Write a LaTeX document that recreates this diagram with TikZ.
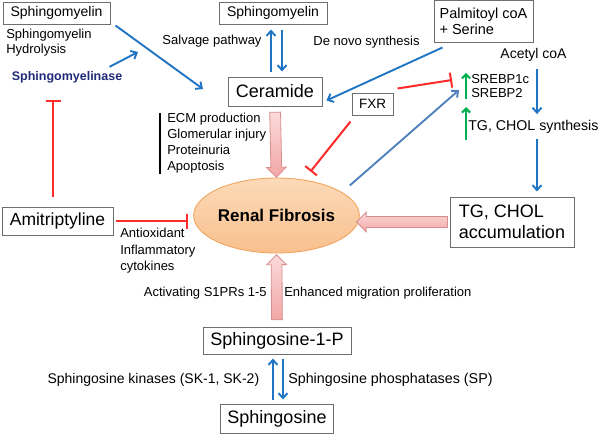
\documentclass[tikz,border=0pt]{standalone}
\usepackage{fontspec}
\setmainfont{Liberation Sans}
\usetikzlibrary{arrows.meta,shapes.geometric,shapes.arrows}

\definecolor{arrblue}{HTML}{1F74C4}
\definecolor{steel}{HTML}{4F81BD}
\definecolor{inhred}{HTML}{FF2A2A}
\definecolor{upgreen}{HTML}{00B050}
\definecolor{enzblue}{HTML}{1F2A78}
\definecolor{pinklight}{HTML}{FBDADA}
\definecolor{pinkfill}{HTML}{F2A6A6}
\definecolor{pinkline}{HTML}{D98E8E}
\definecolor{peachlight}{HTML}{FCDAB8}
\definecolor{peach}{HTML}{F9C08E}
\definecolor{peachline}{HTML}{F2A55E}
\definecolor{boxline}{HTML}{6E6E6E}

\newcommand{\fsz}[2]{\fontsize{#1}{#2}\selectfont}

\begin{document}
\begin{tikzpicture}[x=1pt, y=-1pt, line width=0.6pt,
  box/.style={draw=boxline, line width=1pt, inner sep=0pt, align=center},
  lbl/.style={inner sep=1pt, align=left},
  bluearr/.style={draw=arrblue, line width=1.9pt, -{Straight Barb[length=5pt,width=9pt]}},
  inhib/.style={draw=inhred, line width=2pt, -{Bar[width=15pt,line width=2pt]}},
  greenarr/.style={draw=upgreen, line width=2.2pt, -{Straight Barb[length=4pt,width=8pt]}},
  fatarr/.style={single arrow, draw=pinkline, line width=0.8pt, top color=pinklight, bottom color=pinkfill,
    inner xsep=0pt, inner ysep=5pt, minimum width=0pt, single arrow head extend=4.5pt,
    sloped, allow upside down, midway}]
\useasboundingbox (0,0) rectangle (600,434);

\node[box, minimum width=107pt, minimum height=22pt, font=\fsz{14}{16}] (sm1) at (56.5,13) {Sphingomyelin};
\node[lbl, anchor=north west, font=\fsz{13}{15}] (hyd) at (5,28) {Sphingomyelin\\Hydrolysis};
\node[lbl, font=\fsz{12.5}{15}\bfseries, text=enzblue] (sme) at (67,77) {Sphingomyelinase};
\node[box, minimum width=108pt, minimum height=22pt, font=\fsz{14}{16}] (sm2) at (273,13) {Sphingomyelin};
\node[lbl, font=\fsz{13}{15}] (salv) at (212,41) {Salvage pathway};
\node[box, minimum width=94pt, minimum height=29pt, font=\fsz{18}{20}] (cer) at (275,91.5) {Ceramide};
\node[lbl, font=\fsz{13}{15}] (denovo) at (366.5,42) {De novo synthesis};
\node[box, minimum width=99pt, minimum height=42pt, align=left, font=\fsz{14.5}{16}] (palm) at (483.5,21) {Palmitoyl coA\\+ Serine};
\node[lbl, font=\fsz{14}{16}] (acetyl) at (533.5,55) {Acetyl coA};
\node[lbl, anchor=west, font=\fsz{13}{14.5}] (srebp) at (470,86) {SREBP1c\\SREBP2};
\node[lbl, anchor=west, font=\fsz{14.2}{16}] (tgs) at (467,127) {TG, CHOL synthesis};
\node[box, minimum width=41pt, minimum height=22pt, font=\fsz{13.5}{15}] (fxr) at (372.5,104) {FXR};
\node[lbl, anchor=north west, inner sep=0pt, font=\fsz{13}{16}] (ecm) at (167,113) {ECM production\\Glomerular injury\\Proteinuria\\Apoptosis};
\node[ellipse, draw=peachline, line width=0.9pt, top color=peachlight, bottom color=peach,
  minimum width=133pt, minimum height=75pt, inner sep=0pt, font=\fsz{17}{19}\bfseries] (rf) at (276.5,215.5) {Renal Fibrosis};
\node[box, minimum width=111pt, minimum height=28pt, font=\fsz{17.5}{20}] (ami) at (57.5,221) {Amitriptyline};
\node[lbl, anchor=north west, font=\fsz{13}{16.5}] (anti) at (119,227) {Antioxidant\\Inflammatory\\cytokines};
\node[box, minimum width=124pt, minimum height=50pt, align=left, font=\fsz{18}{21}] (tgbox) at (512,222) {TG, CHOL\\accumulation};
\node[lbl, anchor=east, font=\fsz{13}{15}] (act) at (268,293) {Activating S1PRs 1-5};
\node[lbl, anchor=west, font=\fsz{13}{15}] (enh) at (283,293) {Enhanced migration proliferation};
\node[box, minimum width=148pt, minimum height=27pt, font=\fsz{18}{20}] (s1p) at (277,340.5) {Sphingosine-1-P};
\node[lbl, anchor=east, font=\fsz{14}{16}] (kin) at (260.5,380) {Sphingosine kinases (SK-1, SK-2)};
\node[lbl, anchor=west, font=\fsz{14.3}{16}] (pho) at (287,380) {Sphingosine phosphatases (SP)};
\node[box, minimum width=113pt, minimum height=29pt, font=\fsz{18}{20}] (sph) at (277,418.5) {Sphingosine};

\coordinate (cerin) at (203,89);
\coordinate (hydarr) at (138,52);
\coordinate (srebbar) at (452,80);
\coordinate (srebin) at (459,90);
\coordinate (smebar) at (53,100);

\draw[bluearr] ([shift={(5pt,-1pt)}]sm1.south east) -- (cerin);
\draw[bluearr] ([shift={(-14pt,3pt)}]sme.north east) -- (hydarr);
\draw[bluearr, shorten <=5pt, shorten >=5pt] ([xshift=-4pt]cer.north) -- ([xshift=-2pt]sm2.south);
\draw[bluearr, shorten <=5pt, shorten >=5pt] ([xshift=9pt]sm2.south) -- ([xshift=7pt]cer.north);
\draw[bluearr] ([shift={(9pt,-5pt)}]palm.south west) -- ([shift={(4pt,6pt)}]cer.south east);
\draw[bluearr, shorten <=6pt, shorten >=5pt] ([xshift=3.5pt]acetyl.south) -- ([xshift=3.5pt]acetyl.south |- tgs.north);
\draw[bluearr, shorten <=4pt, shorten >=5pt] ([xshift=3.5pt]acetyl.south |- tgs.south) -- ([xshift=3.5pt]acetyl.south |- tgbox.north);
\draw[bluearr, draw=steel] ([shift={(-10pt,30pt)}]rf.east) -- (srebin);

\draw[greenarr] ([xshift=-4pt]srebp.south west) -- ([xshift=-4pt]srebp.north west);
\draw[greenarr] ([shift={(-1pt,-13pt)}]tgs.west) -- ([shift={(-1pt,20pt)}]tgs.west);

\draw[inhib] ([shift={(4pt,4pt)}]fxr.north east) -- (srebbar);
\draw[inhib] ([shift={(-1pt,-6pt)}]fxr.south west) -- ([shift={(34pt,6pt)}]rf.north);
\draw[inhib, shorten <=10pt] ([xshift=-4.5pt]ami.north) -- (smebar);
\draw[inhib, shorten <=2pt, shorten >=5pt] (ami.east) -- (ami.east -| rf.west);

\draw[line width=1.4pt] ([xshift=-7pt]ecm.north west) -- ([xshift=-7pt]ecm.south west);

\path (cer.south) -- (rf.north) node[fatarr, minimum height=65pt] {};
\path (tgbox.west) -- (rf.east |- tgbox.west) node[fatarr, minimum height=91pt] {};
\path (s1p.north) -- (rf.south) node[fatarr, minimum height=65pt] {};

\draw[bluearr, shorten <=4pt, shorten >=4pt] ([xshift=-4pt]sph.north) -- ([xshift=-4pt]s1p.south);
\draw[bluearr, shorten <=4pt, shorten >=4pt] ([xshift=6pt]s1p.south) -- ([xshift=6pt]sph.north);
\end{tikzpicture}
\end{document}
